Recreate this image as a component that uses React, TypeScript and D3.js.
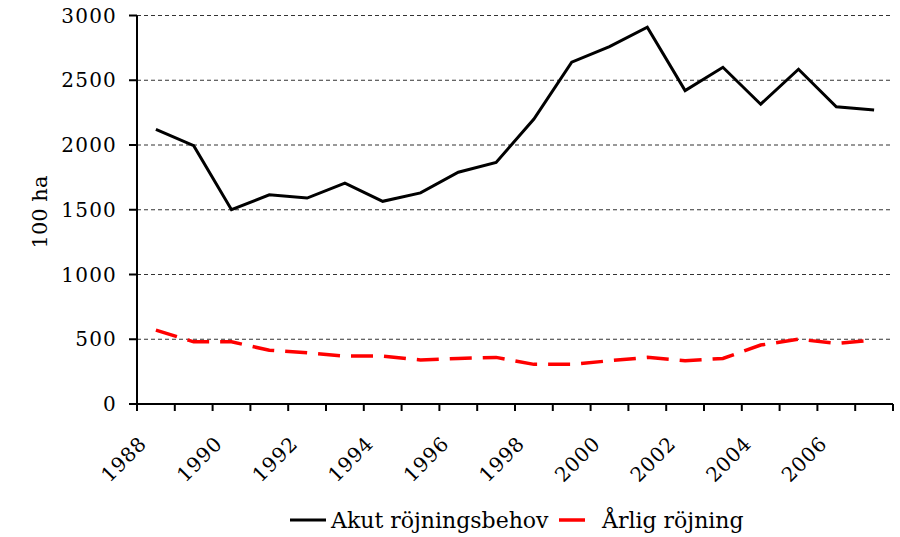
import React from "react";
import * as d3 from "d3";

const years = [1988,1989,1990,1991,1992,1993,1994,1995,1996,1997,1998,1999,2000,2001,2002,2003,2004,2005,2006,2007];
const akut = [2120,1995,1500,1615,1590,1705,1565,1630,1790,1865,2200,2640,2760,2910,2420,2600,2315,2585,2295,2270];
const arlig = [570,480,480,415,395,370,370,340,352,360,306,306,334,360,334,352,455,500,468,493];
const yTicks = [0,500,1000,1500,2000,2500,3000];
const xLabels = [1988,1990,1992,1994,1996,1998,2000,2002,2004,2006];
const seriesNames = ["Akut röjningsbehov", "Årlig röjning"];

export default function App() {
  const W = 900, H = 537;
  const left = 137, right = 893, top = 15.5, bottom = 404;
  const x = d3.scaleBand<number>().domain(years).range([left, right]).padding(0);
  const bw = x.bandwidth();
  const y = d3.scaleLinear().domain([0, 3000]).range([bottom, top]);
  const cx = (yr: number) => (x(yr) as number) + bw / 2;
  const line = d3.line<number>().x((_, i) => cx(years[i])).y(d => y(d));
  const font = "'DejaVu Serif', serif";
  const boundaries = years.map(yr => x(yr) as number).concat([right]);

  return (
    <svg width={W} height={H} style={{ position: "absolute", left: 0, top: 0, background: "#fff" }} fontFamily={font}>
      {yTicks.filter(t => t > 0).map(t => (
        <line key={"g" + t} x1={left} x2={right} y1={y(t)} y2={y(t)} stroke="#333" strokeWidth={1} strokeDasharray="4,3" />
      ))}
      {yTicks.map(t => (
        <g key={"yt" + t}>
          <line x1={left - 8} x2={left} y1={y(t)} y2={y(t)} stroke="#000" strokeWidth={2} />
          <text x={117} y={y(t)} textAnchor="end" dominantBaseline="central" fontSize={20} letterSpacing={1.2} fill="#000">{t}</text>
        </g>
      ))}
      {boundaries.map((b, i) => (
        <line key={"xt" + i} x1={b} x2={b} y1={bottom} y2={bottom + 7} stroke="#000" strokeWidth={2} />
      ))}
      <line x1={left} x2={left} y1={top} y2={bottom} stroke="#000" strokeWidth={2} />
      <line x1={left} x2={right} y1={bottom} y2={bottom} stroke="#000" strokeWidth={2} />
      {xLabels.map(yr => {
        const ax = cx(yr) - 13, ay = 440;
        return (
          <text key={"xl" + yr} x={ax} y={ay} textAnchor="end" dominantBaseline="central" fontSize={20} letterSpacing={0.8} transform={`rotate(-45 ${ax} ${ay})`} fill="#000">{yr}</text>
        );
      })}
      <text transform={`rotate(-90 40 212)`} x={40} y={212} textAnchor="middle" dominantBaseline="central" fontSize={21} fill="#000">100 ha</text>
      <path d={line(arlig) || ""} fill="none" stroke="#ff0000" strokeWidth={3.5} strokeDasharray="22,11" />
      <path d={line(akut) || ""} fill="none" stroke="#000" strokeWidth={3} strokeLinejoin="miter" />
      <line x1={290} x2={326} y1={520} y2={520} stroke="#000" strokeWidth={3} />
      <text x={331} y={520} dominantBaseline="central" fontSize={22} fill="#000">{seriesNames[0]}</text>
      <line x1={559} x2={585} y1={520} y2={520} stroke="#ff0000" strokeWidth={3.5} />
      <text x={602} y={520} dominantBaseline="central" fontSize={22} fill="#000">{seriesNames[1]}</text>
    </svg>
  );
}
